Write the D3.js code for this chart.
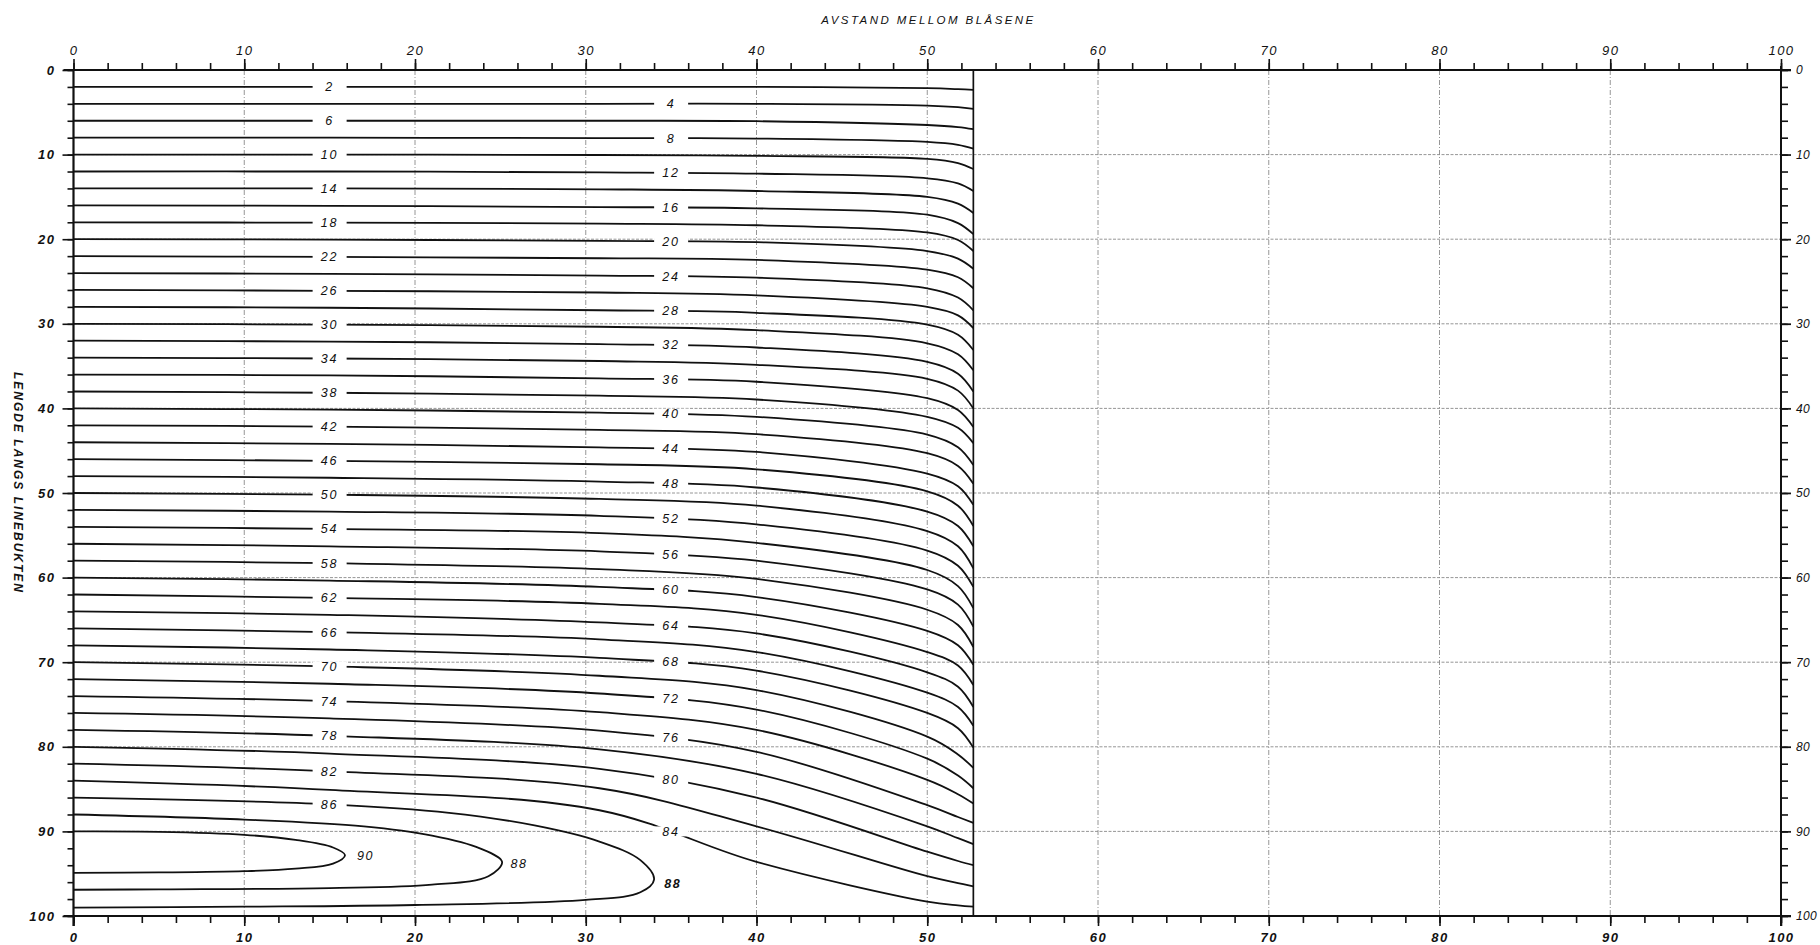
<!DOCTYPE html>
<html>
<head>
<meta charset="utf-8">
<script src="https://cdn.jsdelivr.net/npm/d3@7"></script>
<style>
  body { margin: 0; background: #fff; }
  svg text { font-family: "Liberation Sans", Arial, sans-serif; font-style: italic; fill: #111; }
</style>
</head>
<body>
<div id="chart"></div>
<script>
'use strict';

// contour levels that run from the left edge to the wall at x = 52.7
const levels = [2, 4, 6, 8, 10, 12, 14, 16, 18, 20, 22, 24, 26, 28, 30, 32, 34, 36, 38, 40, 42,
                44, 46, 48, 50, 52, 54, 56, 58, 60, 62, 64, 66, 68, 70, 72, 74, 76, 78, 80, 82, 84];
const xCols = [0, 15, 30.8, 40, 50, 51.8, 52.7];
// y of each contour at those x positions (one array per column)
const yAtX0 = [2, 4, 6, 8, 10, 12, 14, 16, 18, 20, 22, 24, 26, 28, 30, 32, 34, 36, 38, 40, 42,
               44, 46, 48, 50, 52, 54, 56, 58, 60, 62, 64, 66, 68, 70, 72, 74, 76, 78, 80, 82, 84];
const yAtX15 = [2.0, 4.0, 6.0, 8.0, 10.0, 12.0, 14.0, 16.05, 18.05, 20.05, 22.1, 24.1, 26.1, 28.1,
                30.1, 32.1, 34.1, 36.1, 38.15, 40.15, 42.15, 44.2, 46.2, 48.2, 50.2, 52.2, 54.25,
                56.3, 58.3, 60.35, 62.4, 64.4, 66.45, 68.5, 70.5, 72.55, 74.6, 76.65, 78.7, 80.8,
                82.9, 85.1];
const yAtX31 = [2.0, 4.0, 6.0, 8.05, 10.05, 12.1, 14.1, 16.2, 18.15, 20.2, 22.25, 24.3, 26.3, 28.4,
                30.35, 32.4, 34.4, 36.45, 38.5, 40.5, 42.55, 44.6, 46.6, 48.65, 50.7, 52.7, 54.75,
                56.9, 59.0, 61.1, 63.1, 65.3, 67.3, 69.5, 71.6, 73.7, 75.9, 78.1, 80.3, 82.6,
                84.9, 87.5];
const yAtX40 = [2.0, 4.0, 6.05, 8.1, 10.15, 12.25, 14.3, 16.35, 18.35, 20.35, 22.45, 24.55, 26.65,
                28.7, 30.75, 32.8, 34.85, 36.85, 38.95, 41.0, 43.05, 45.15, 47.2, 49.35, 51.5, 53.7,
                55.9, 58.0, 60.15, 62.3, 64.4, 66.6, 68.8, 71.0, 73.3, 75.6, 78.0, 80.6, 83.2,
                86.0, 89.4, 93.6];
const yAtX50 = [2.15, 4.2, 6.5, 8.5, 10.5, 12.8, 15.0, 17.1, 19.2, 21.4, 23.6, 25.8, 28.0, 30.1,
                32.3, 34.5, 36.5, 38.8, 41.0, 43.1, 45.3, 47.7, 49.8, 52.2, 54.5, 56.8, 59.1,
                61.4, 63.8, 66.3, 68.8, 71.2, 73.6, 76.0, 78.8, 81.4, 83.9, 86.9, 89.4, 92.4,
                95.3, 98.3];
const yAtX52 = [2.27, 4.4, 6.75, 8.85, 11.0, 13.4, 15.8, 18.1, 20.1, 22.3, 24.5, 26.9, 29.0, 31.3,
                33.6, 35.9, 37.9, 40.2, 42.3, 44.6, 46.8, 49.2, 51.5, 53.9, 56.3, 58.6, 61.0,
                63.2, 65.6, 68.0, 70.4, 72.9, 75.3, 77.8, 80.9, 83.4, 85.6, 88.3, 90.8, 93.5,
                96.1, 98.75];
const yAtEnd = [2.36, 4.6, 7.0, 9.3, 11.7, 14.3, 16.9, 19.4, 21.4, 23.5, 25.8, 28.4, 30.5, 33.1,
                35.5, 38.0, 40.0, 42.2, 44.1, 46.7, 48.9, 51.4, 53.9, 56.3, 58.9, 61.1, 63.6,
                65.8, 68.2, 70.3, 72.7, 75.3, 77.5, 80.1, 82.5, 84.9, 86.7, 89.0, 91.5, 94.0,
                96.5, 98.9];

// closed contours in the lower left corner, [x, y]
const loop90 = [[0, 90], [5, 90.05], [10, 90.4], [13, 91.0], [15.2, 91.9], [15.9, 92.8],
                [15.2, 93.8], [13, 94.4], [10, 94.7], [5, 94.85], [0, 94.9]];
const loop88 = [[0, 88], [10, 88.6], [17, 89.4], [21, 90.5], [23.8, 92.0], [25.1, 93.6],
                [24.3, 95.3], [21, 96.3], [15, 96.7], [5, 96.85], [0, 96.9]];
const loop86 = [[0, 86], [15, 86.8], [22, 87.8], [27, 89.3], [30.8, 91.2], [33.2, 93.4],
                [34.0, 95.7], [33.2, 97.2], [30, 98.1], [20, 98.7], [10, 98.9], [0, 99.0]];
const loopLabels = [
  {text: '90', x: 16.6, y: 92.8, bold: false},
  {text: '88', x: 25.6, y: 93.8, bold: false},
  {text: '88', x: 34.6, y: 96.1, bold: true},
];

const wallX = 52.7;
const minorTicks = d3.range(0, 101, 2);
const majorTicks = [0, 10, 20, 30, 40, 50, 60, 70, 80, 90, 100];
const gridTicks = [10, 20, 30, 40, 50, 60, 70, 80, 90];
const xTitle = 'AVSTAND MELLOM BLÅSENE';
const yTitle = 'LENGDE LANGS LINEBUKTEN';

const W = 1820, H = 945;
const x = d3.scaleLinear().domain([0, 100]).range([73.5, 1781]);
const y = d3.scaleLinear().domain([0, 100]).range([70, 916]);

const svg = d3.select('#chart').append('svg')
  .attr('width', W).attr('height', H);
svg.append('rect').attr('width', W).attr('height', H).attr('fill', '#fff');

// grid
const grid = svg.append('g')
  .attr('stroke', '#8a8a8a').attr('stroke-width', 0.9).attr('fill', 'none');
grid.selectAll('line.gx').data(gridTicks).enter().append('line')
  .attr('x1', d => x(d)).attr('x2', d => x(d))
  .attr('y1', y(0)).attr('y2', y(100))
  .attr('stroke-dasharray', '5,2,1,2');
grid.selectAll('line.gy').data(gridTicks).enter().append('line')
  .attr('x1', x(0)).attr('x2', x(100) + 11)
  .attr('y1', d => y(d)).attr('y2', d => y(d))
  .attr('stroke-dasharray', '3,1.5');

// axes
function styleAxis(g, bold, spacing) {
  g.select('.domain').remove();
  g.selectAll('.tick line').attr('stroke', '#111').attr('stroke-width', 1.6);
  g.selectAll('.tick text')
    .attr('font-size', 13)
    .attr('font-weight', bold ? 'bold' : 'normal')
    .attr('letter-spacing', spacing === undefined ? 1.5 : spacing)
    .attr('fill', '#111');
}

const axTop = svg.append('g').attr('transform', 'translate(0,' + y(0) + ')');
axTop.append('g').call(d3.axisTop(x).tickValues(minorTicks).tickSize(7).tickFormat(''))
  .call(g => styleAxis(g, false));
axTop.append('g').call(d3.axisTop(x).tickValues(majorTicks).tickSize(11).tickPadding(4))
  .call(g => styleAxis(g, false));

const axBottom = svg.append('g').attr('transform', 'translate(0,' + y(100) + ')');
axBottom.append('g').call(d3.axisBottom(x).tickValues(minorTicks).tickSize(7).tickFormat(''))
  .call(g => styleAxis(g, true));
axBottom.append('g').call(d3.axisBottom(x).tickValues(majorTicks).tickSize(10).tickPadding(7))
  .call(g => styleAxis(g, true));

const axLeft = svg.append('g').attr('transform', 'translate(' + x(0) + ',0)');
axLeft.append('g').call(d3.axisLeft(y).tickValues(minorTicks).tickSize(6).tickFormat(''))
  .call(g => styleAxis(g, true));
axLeft.append('g').call(d3.axisLeft(y).tickValues(majorTicks).tickSize(11).tickPadding(7))
  .call(g => styleAxis(g, true));

const axRight = svg.append('g').attr('transform', 'translate(' + x(100) + ',0)');
axRight.append('g').call(d3.axisRight(y).tickValues(minorTicks).tickSize(7).tickFormat(''))
  .call(g => styleAxis(g, false));
axRight.append('g').call(d3.axisRight(y).tickValues(majorTicks).tickSize(10).tickPadding(5))
  .call(g => styleAxis(g, false, 0.3));
axRight.selectAll('.tick text').attr('font-size', 12);

// frame lines
const frame = svg.append('g').attr('stroke', '#111').attr('fill', 'none');
frame.append('line').attr('x1', x(0) - 10).attr('x2', x(100) + 10)
  .attr('y1', y(0)).attr('y2', y(0)).attr('stroke-width', 2);
frame.append('line').attr('x1', x(0) - 10).attr('x2', x(100) + 10)
  .attr('y1', y(100)).attr('y2', y(100)).attr('stroke-width', 2);
frame.append('line').attr('x1', x(0)).attr('x2', x(0))
  .attr('y1', y(0)).attr('y2', y(100) + 10).attr('stroke-width', 2.2);
frame.append('line').attr('x1', x(100)).attr('x2', x(100))
  .attr('y1', y(0) - 4).attr('y2', y(100) + 10).attr('stroke-width', 2);
frame.append('line').attr('x1', x(wallX)).attr('x2', x(wallX))
  .attr('y1', y(0)).attr('y2', y(100)).attr('stroke-width', 1.7);

// contours
const cols = [yAtX0, yAtX15, yAtX31, yAtX40, yAtX50, yAtX52, yAtEnd];
const contours = levels.map((v, k) => ({
  level: v,
  points: xCols.map((cx, i) => [cx, cols[i][k]]),
  labelX: v % 4 === 2 ? 15 : 35,
}));

// centripetal catmull-rom keeps the bend near the wall smooth
const line = d3.line()
  .x(d => x(d[0])).y(d => y(d[1]))
  .curve(d3.curveCatmullRom.alpha(0.5));

const contourG = svg.append('g')
  .attr('fill', 'none').attr('stroke', '#111').attr('stroke-width', 1.8)
  .attr('stroke-linejoin', 'round');
const paths = contourG.selectAll('path.c').data(contours).enter().append('path')
  .attr('class', 'c')
  .attr('d', d => line(d.points));
const loops = [loop90, loop88, loop86];
const loopPaths = contourG.selectAll('path.l').data(loops).enter().append('path')
  .attr('class', 'l')
  .attr('d', d => line(d));

// screen y on a path at a given screen x (path x grows along the searched part)
function yOnPath(node, px, maxFrac) {
  let lo = 0, hi = node.getTotalLength() * (maxFrac || 1);
  for (let i = 0; i < 30; i++) {
    const mid = (lo + hi) / 2;
    if (node.getPointAtLength(mid).x < px) lo = mid; else hi = mid;
  }
  return node.getPointAtLength(lo).y;
}

const labels = [];
paths.each(function(d) {
  labels.push({text: String(d.level), sx: x(d.labelX), sy: yOnPath(this, x(d.labelX))});
});
labels.push({text: '86', sx: x(15), sy: yOnPath(loopPaths.nodes()[2], x(15), 0.4)});

const labelG = svg.append('g');
labelG.selectAll('rect').data(labels).enter().append('rect')
  .attr('x', d => d.sx - 17).attr('y', d => d.sy - 5)
  .attr('width', 34).attr('height', 10)
  .attr('fill', '#fff');
labelG.selectAll('text').data(labels).enter().append('text')
  .attr('x', d => d.sx).attr('y', d => d.sy + 4.5)
  .attr('text-anchor', 'middle')
  .attr('font-size', 12.5)
  .attr('letter-spacing', 2)
  .text(d => d.text);

svg.append('g').selectAll('text').data(loopLabels).enter().append('text')
  .attr('x', d => x(d.x)).attr('y', d => y(d.y) + 4.5)
  .attr('font-size', 12.5)
  .attr('font-weight', d => d.bold ? 'bold' : 'normal')
  .attr('letter-spacing', 1.5)
  .text(d => d.text);

// titles
svg.append('text')
  .attr('x', (x(0) + x(100)) / 2).attr('y', 24)
  .attr('text-anchor', 'middle')
  .attr('font-size', 11.5)
  .attr('textLength', 212).attr('lengthAdjust', 'spacing')
  .text(xTitle);
svg.append('text')
  .attr('transform', 'translate(14,482) rotate(90)')
  .attr('text-anchor', 'middle')
  .attr('font-size', 12)
  .attr('font-weight', 'bold')
  .attr('textLength', 220).attr('lengthAdjust', 'spacing')
  .text(yTitle);
</script>
</body>
</html>
